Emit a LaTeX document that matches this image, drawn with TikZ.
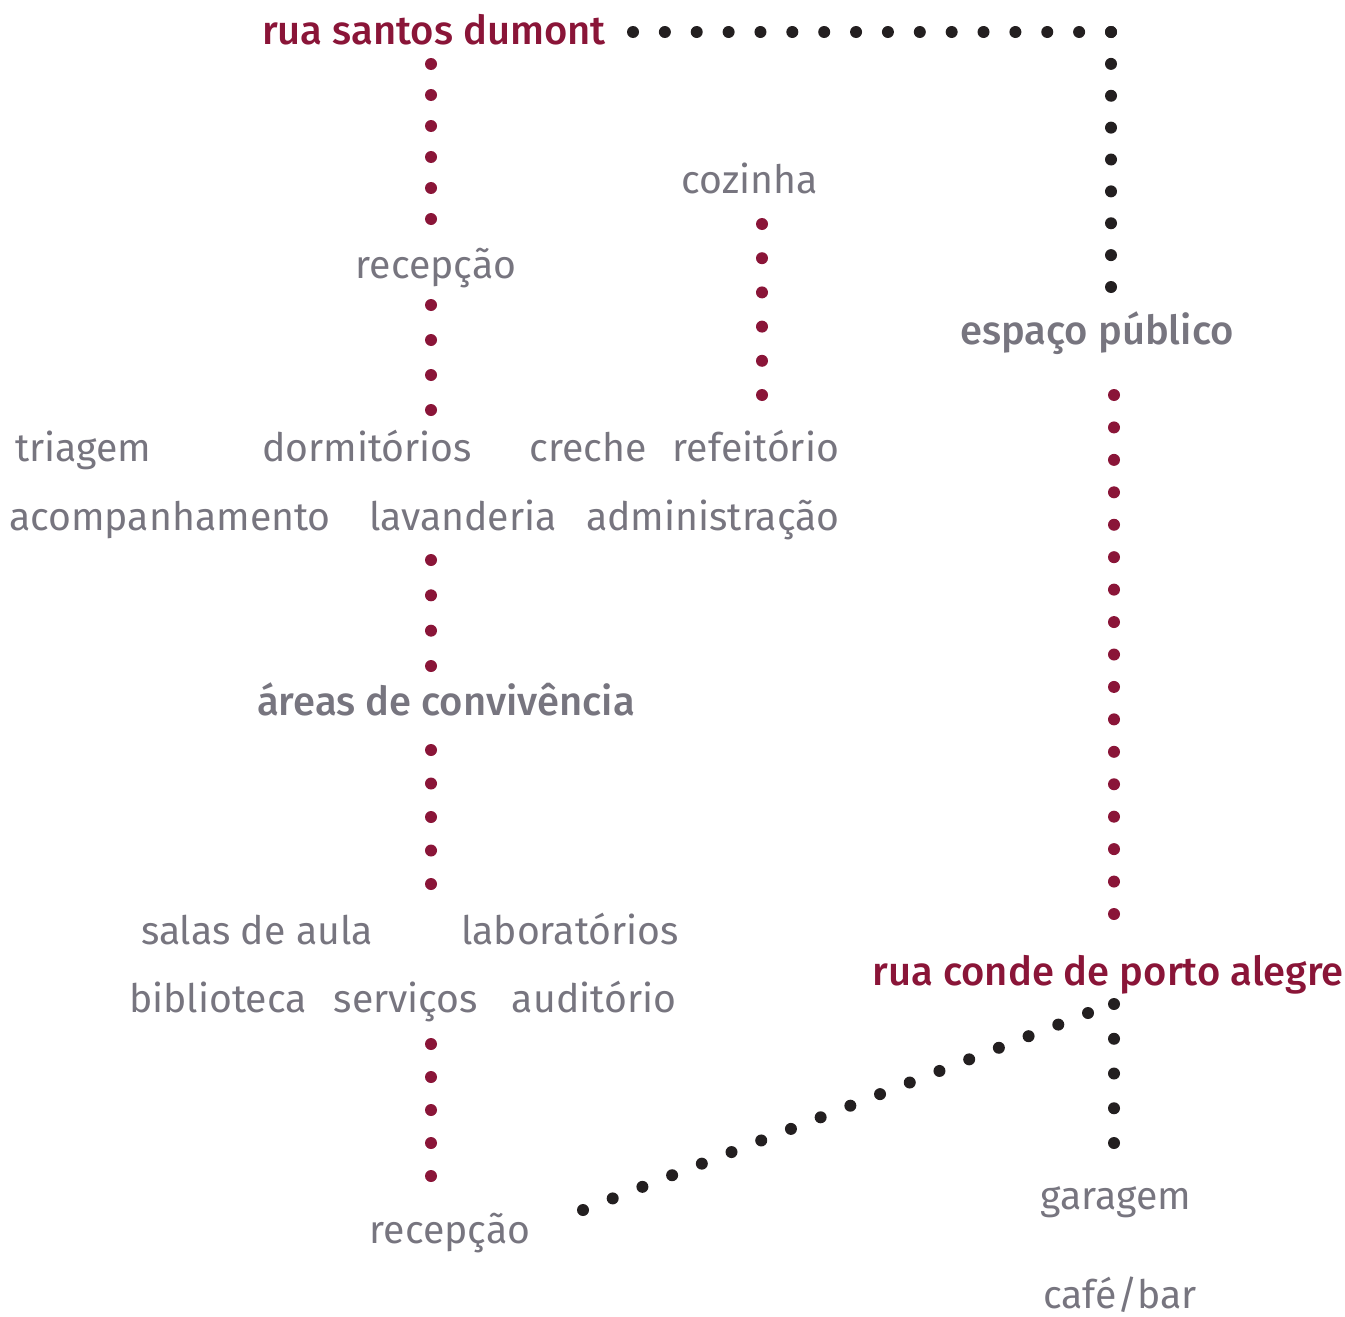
\documentclass[tikz,border=0pt]{standalone}
\usepackage{fontspec}
\setmainfont{Fira Sans}[BoldFont={Fira Sans Medium}]
\usetikzlibrary{calc}
\definecolor{vinho}{HTML}{8A1538}
\definecolor{cinza}{HTML}{77757F}
\definecolor{preto}{HTML}{231F20}
% row of dots between two named points: colour, from, to, steps
\newcommand{\dotrow}[4]{%
  \foreach \k in {0,...,#4}{\fill[#1] ($(#2)!\k/#4!(#3)$) circle (3pt);}}

\begin{document}
\begin{tikzpicture}[x=0.5pt,y=-0.5pt,
    lbl/.style={text=cinza,font=\fontsize{19.6}{24}\selectfont,anchor=base,inner sep=0pt},
    hub/.style={lbl,font=\fontsize{20}{24}\selectfont\bfseries},
    rua/.style={hub,text=vinho}
]
\useasboundingbox (0,0) rectangle (1345,1317);
% streets and hubs
\node[rua] (santos) at (434,45) {rua santos dumont};
\node[rua] (conde) at (1108,985) {rua conde de porto alegre};
\node[hub] (espaco) at (1097,344) {espaço público};
\node[hub] (conviv) at (446,715) {áreas de convivência};
% rooms
\node[lbl] (recep1) at (436,278) {recepção};
\node[lbl] (cozinha) at (750,193) {cozinha};
\node[lbl] (triagem) at (83,461) {triagem};
\node[lbl] (dormit) at (367,461) {dormitórios};
\node[lbl] (creche) at (588,461) {creche};
\node[lbl] (refeit) at (756,461) {refeitório};
\node[lbl] (acomp) at (170,530) {acompanhamento};
\node[lbl] (lavand) at (463,530) {lavanderia};
\node[lbl] (admin) at (713,530) {administração};
\node[lbl] (salas) at (257,944) {salas de aula};
\node[lbl] (labs) at (570,944) {laboratórios};
\node[lbl] (biblio) at (218,1012) {biblioteca};
\node[lbl] (servicos) at (406,1012) {serviços};
\node[lbl] (audit) at (594,1012) {auditório};
\node[lbl] (recep2) at (450,1243) {recepção};
\node[lbl] (garagem) at (1116,1209) {garagem};
\node[lbl] (cafe) at (1120,1308) {café/bar};
% ends of the dotted links
\coordinate (santos-e) at (633,32);
\coordinate (canto) at (1111,32);
\coordinate (espaco-n) at (1111,287);
\coordinate (santos-s) at (431,64);
\coordinate (recep1-n) at (431,219);
\coordinate (recep1-s) at (431,305);
\coordinate (dormit-n) at (431,410);
\coordinate (cozinha-s) at (762,224);
\coordinate (refeit-n) at (762,395);
\coordinate (espaco-s) at (1114,395);
\coordinate (conde-n) at (1114,914);
\coordinate (lavand-s) at (431,560);
\coordinate (conviv-n) at (431,666);
\coordinate (conviv-s) at (431,750);
\coordinate (salas-n) at (431,884);
\coordinate (servicos-s) at (431,1044);
\coordinate (recep2-n) at (431,1176);
\coordinate (conde-s) at (1114,1004);
\coordinate (garagem-n) at (1114,1143);
\coordinate (recep2-e) at (583,1210);
\coordinate (conde-sw) at (1088,1013);
% dotted links
\dotrow{preto}{santos-e}{canto}{15}
\dotrow{preto}{canto}{espaco-n}{8}
\dotrow{vinho}{santos-s}{recep1-n}{5}
\dotrow{vinho}{recep1-s}{dormit-n}{3}
\dotrow{vinho}{cozinha-s}{refeit-n}{5}
\dotrow{vinho}{espaco-s}{conde-n}{16}
\dotrow{vinho}{lavand-s}{conviv-n}{3}
\dotrow{vinho}{conviv-s}{salas-n}{4}
\dotrow{vinho}{servicos-s}{recep2-n}{4}
\dotrow{preto}{conde-s}{garagem-n}{4}
\dotrow{preto}{recep2-e}{conde-sw}{17}
\end{tikzpicture}
\end{document}
